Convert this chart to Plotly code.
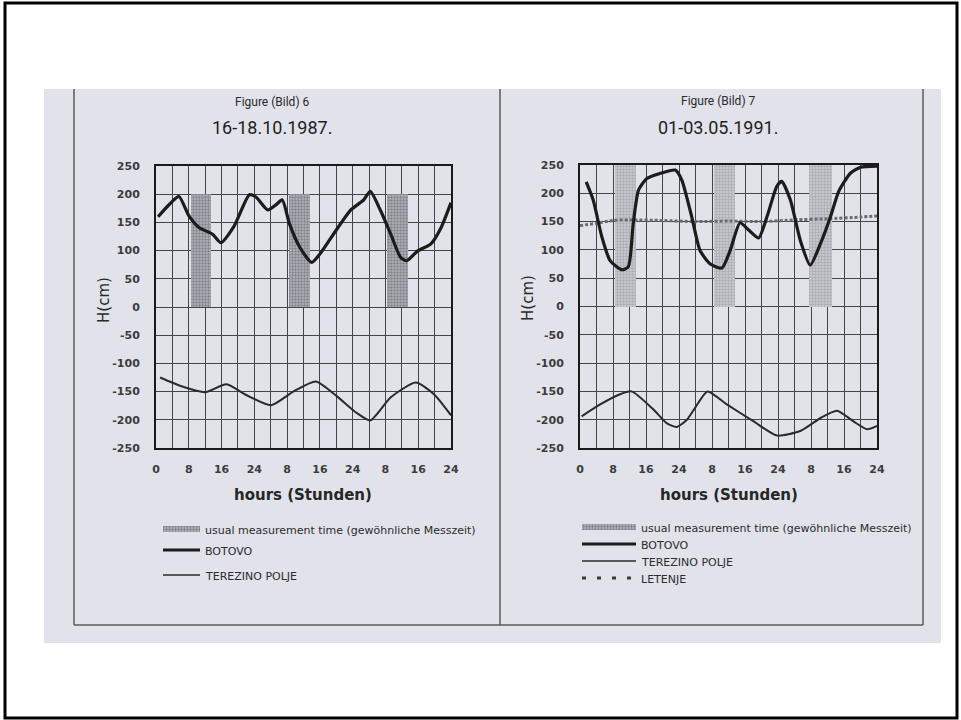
import plotly.graph_objects as go

W, H = 961, 720

# ---- time axis (hours over three days) ----
x_tickvals = [0, 8, 16, 24, 32, 40, 48, 56, 64, 72]
x_ticktext = ["0", "8", "16", "24", "8", "16", "24", "8", "16", "24"]
y_tickvals = [250, 200, 150, 100, 50, 0, -50, -100, -150, -200, -250]
y_ticktext = ["250", "200", "150", "100", "50", "0", "-50", "-100", "-150", "-200", "-250"]

# ---- Figure 6: 16-18.10.1987 ----
f6_botovo_h = [0.5, 3, 5.6, 8, 10.5, 13.8, 15.8, 19.1, 22.8, 24.4, 27.3, 29.4, 30.8,
               32.6, 35.1, 38, 40, 43.3, 47.4, 50.7, 52.3, 54.8, 57.3, 59.7, 61.2,
               63.8, 67.1, 69.6, 72]
f6_botovo_v = [160, 180, 196, 162, 141, 129, 114, 144, 199, 195, 172, 182, 190,
               147, 106, 79, 94, 129, 171, 190, 205, 171, 129, 88, 82,
               99, 112, 141, 185]
f6_terezino_h = [1, 6.4, 12, 17.2, 22, 28.1, 33.5, 39, 44.1, 49, 52.3, 57.3, 63.4,
                 67.9, 72]
f6_terezino_v = [-125, -141, -151, -137, -156, -174, -150, -132, -158, -188, -201,
                 -160, -134, -155, -192]
f6_meas_start = [8.5, 32.5, 56.5]
f6_meas_end = [13.5, 37.5, 61.5]
f6_meas_top = 200

# ---- Figure 7: 01-03.05.1991 ----
f7_botovo_h = [1.5, 3.2, 5.3, 7.3, 10.1, 11.7, 12.9, 14.2, 16.2, 19.4, 23.1, 24.7,
               27.1, 29.1, 31.6, 34.4, 36.4, 38.8, 40.9, 43.3, 45.3, 47.7, 48.9,
               51, 53.4, 55.8, 58.3, 60.7, 62.7, 65.5, 68, 72]
f7_botovo_v = [220, 188, 123, 81, 65, 70, 146, 206, 226, 235, 241, 223,
               158, 99, 75, 68, 99, 148, 135, 121, 158, 212, 221,
               188, 117, 73, 111, 158, 203, 235, 246, 248]
f7_terezino_h = [0.4, 4.9, 9.7, 12.5, 17.8, 21, 23.4, 25.9, 27.9, 30.9, 35.6, 42.1,
                 47.7, 53.4, 58.3, 62.3, 66.3, 69.6, 72]
f7_terezino_v = [-194, -173, -155, -150, -182, -206, -213, -200, -179, -150, -173,
                 -203, -228, -220, -197, -184, -203, -217, -211]
f7_letenje_h = [0, 4, 8, 12, 20, 28, 36, 44, 52, 60, 68, 72]
f7_letenje_v = [143, 147, 152, 153, 152, 150, 151, 150, 153, 155, 158, 160]
f7_meas_start = [8.5, 32.5, 55.5]
f7_meas_end = [13.5, 37.5, 61.0]
f7_meas_top = 250

LEGEND_MEAS = "usual measurement time (gewöhnliche Messzeit)"

PAPER_BG = "#e1e2ea"
INK = "#1c1c1c"
TICK_FONT = dict(family="DejaVu Sans", size=11, color="#3c3c3c", weight="bold")
TITLE_FONT = "Roboto, Liberation Sans, DejaVu Sans"
STIPPLE = dict(shape=".", fgcolor="#4f4f57", bgcolor="#b5b5be", size=3, solidity=0.5)


def px(x):
    return x / W


def py(y):
    return 1 - y / H


fig = go.Figure()


def add_panel(xa, ya, starts, ends, top, pattern, series):
    centers = [(s + e) / 2 for s, e in zip(starts, ends)]
    widths = [e - s for s, e in zip(starts, ends)]
    fig.add_trace(go.Bar(
        x=centers, y=[top] * len(centers), base=0, width=widths,
        xaxis=xa, yaxis=ya, showlegend=False, hoverinfo="skip",
        marker=dict(color=pattern["bgcolor"], line=dict(width=0), pattern=pattern),
    ))
    for hx, vy, lw, col, dash in series:
        fig.add_trace(go.Scatter(
            x=hx, y=vy, mode="lines", xaxis=xa, yaxis=ya, showlegend=False,
            line=dict(color=col, width=lw, dash=dash, shape="spline", smoothing=0.6),
        ))


add_panel("x", "y", f6_meas_start, f6_meas_end, f6_meas_top, STIPPLE, [
    (f6_botovo_h, f6_botovo_v, 3.2, INK, "solid"),
    (f6_terezino_h, f6_terezino_v, 2, "#2a2a2a", "solid"),
])
add_panel("x2", "y2", f7_meas_start, f7_meas_end, f7_meas_top,
          dict(STIPPLE, fgcolor="#85858e", bgcolor="#cdcdd5"), [
    (f7_letenje_h, f7_letenje_v, 3, "#6a6a70", "3px,2px"),
    (f7_botovo_h, f7_botovo_v, 3.2, INK, "solid"),
    (f7_terezino_h, f7_terezino_v, 2, "#2a2a2a", "solid"),
])

xaxis_common = dict(
    range=[0, 72], tickmode="array", tickvals=x_tickvals, ticktext=x_ticktext,
    showgrid=True, gridcolor="#444448", gridwidth=1.4,
    minor=dict(tickmode="linear", tick0=0, dtick=4, showgrid=True,
               gridcolor="#444448", gridwidth=1.4),
    showline=True, linecolor="#1a1a1a", linewidth=2, mirror=True,
    zeroline=False, ticks="", tickfont=TICK_FONT, ticklabelstandoff=10,
    fixedrange=True, automargin=False,
)
yaxis_common = dict(
    range=[-250, 250], tickmode="array", tickvals=y_tickvals, ticktext=y_ticktext,
    showgrid=True, gridcolor="#444448", gridwidth=1.4,
    showline=True, linecolor="#1a1a1a", linewidth=2, mirror=True,
    zeroline=False, ticks="", tickfont=TICK_FONT, ticklabelstandoff=12,
    fixedrange=True, automargin=False,
)
# full-page pixel overlay used for the legend swatches
overlay = dict(visible=False, showgrid=False, zeroline=False, fixedrange=True,
               automargin=False)

fig.update_layout(
    width=W, height=H, margin=dict(l=0, r=0, t=0, b=0, autoexpand=False),
    paper_bgcolor="white", plot_bgcolor="rgba(0,0,0,0)",
    showlegend=False, bargap=0,
    xaxis=dict(xaxis_common, domain=[px(156), px(451)], anchor="y"),
    yaxis=dict(yaxis_common, domain=[py(448), py(166)], anchor="x"),
    xaxis2=dict(xaxis_common, domain=[px(580), px(877)], anchor="y2"),
    yaxis2=dict(yaxis_common, domain=[py(448), py(165)], anchor="x2"),
    xaxis3=dict(overlay, domain=[0, 1], range=[0, W], anchor="y3"),
    yaxis3=dict(overlay, domain=[0, 1], range=[H, 0], anchor="x3"),
)

shapes = []
# page border and scanned sheet
shapes.append(dict(type="rect", xref="paper", yref="paper", x0=px(44), x1=px(941),
                   y0=py(643), y1=py(89), fillcolor=PAPER_BG, line=dict(width=0),
                   layer="below"))
shapes.append(dict(type="rect", xref="paper", yref="paper", x0=px(5), x1=px(957),
                   y0=py(718), y1=py(3), line=dict(color="black", width=3),
                   layer="above"))
# frame lines on the sheet
frame = dict(color="#5a5a60", width=1.5)
for x in (74, 500, 923):
    shapes.append(dict(type="line", xref="paper", yref="paper", x0=px(x), x1=px(x),
                       y0=py(89), y1=py(625), line=frame))
shapes.append(dict(type="line", xref="paper", yref="paper", x0=px(74), x1=px(923),
                   y0=py(625), y1=py(625), line=frame))

annotations = []


def text(x, y, s, size, family="DejaVu Sans", color="#333", weight="normal",
         xanchor="center", angle=0):
    annotations.append(dict(xref="paper", yref="paper", x=px(x), y=py(y), text=s,
                            showarrow=False, xanchor=xanchor, yanchor="middle",
                            textangle=angle,
                            font=dict(family=family, size=size, color=color,
                                      weight=weight)))


def legend_block(x0, x1, rows):
    for y, kind, label in rows:
        if kind == "meas":
            fig.add_trace(go.Scatter(
                x=[x0, x1, x1, x0, x0], y=[y - 3, y - 3, y + 3, y + 3, y - 3],
                xaxis="x3", yaxis="y3", mode="lines", fill="toself",
                fillcolor=STIPPLE["bgcolor"], fillpattern=STIPPLE, line=dict(width=0),
                showlegend=False, hoverinfo="skip"))
        elif kind == "thick":
            shapes.append(dict(type="line", xref="paper", yref="paper", x0=px(x0),
                               x1=px(x1), y0=py(y), y1=py(y),
                               line=dict(color=INK, width=3)))
        elif kind == "thin":
            shapes.append(dict(type="line", xref="paper", yref="paper", x0=px(x0),
                               x1=px(x1), y0=py(y), y1=py(y),
                               line=dict(color="#2a2a2a", width=1.6)))
        else:
            shapes.append(dict(type="line", xref="paper", yref="paper", x0=px(x0),
                               x1=px(x1), y0=py(y), y1=py(y),
                               line=dict(color="#3a3a3a", width=3,
                                         dash="4px,11px")))
        text(x1 + 3, y + 1, label, 11, color="#2c2c2c", xanchor="left")


legend_block(163, 200, [
    (529, "meas", LEGEND_MEAS),
    (550, "thick", "BOTOVO"),
    (575, "thin", "TEREZINO POLJE"),
])
legend_block(582, 636, [
    (527, "meas", LEGEND_MEAS),
    (544, "thick", "BOTOVO"),
    (561, "thin", "TEREZINO POLJE"),
    (578, "dash", "LETENJE"),
])

# titles
text(272, 102, "Figure (Bild) 6", 12, family=TITLE_FONT, color="#2a2a2a")
text(272, 127, "16-18.10.1987.", 18, family=TITLE_FONT, color="#1e1e1e")
text(718, 101, "Figure (Bild) 7", 12, family=TITLE_FONT, color="#2a2a2a")
text(718, 127, "01-03.05.1991.", 18, family=TITLE_FONT, color="#1e1e1e")

# axis titles
text(303, 495, "hours (Stunden)", 15, color="#262626", weight="bold")
text(729, 495, "hours (Stunden)", 15, color="#262626", weight="bold")
text(104, 300, "H(cm)", 15, color="#2a2a2a", angle=-90)
text(528, 298, "H(cm)", 15, color="#2a2a2a", angle=-90)

fig.update_layout(shapes=shapes, annotations=annotations)

fig.write_html("out.html")
